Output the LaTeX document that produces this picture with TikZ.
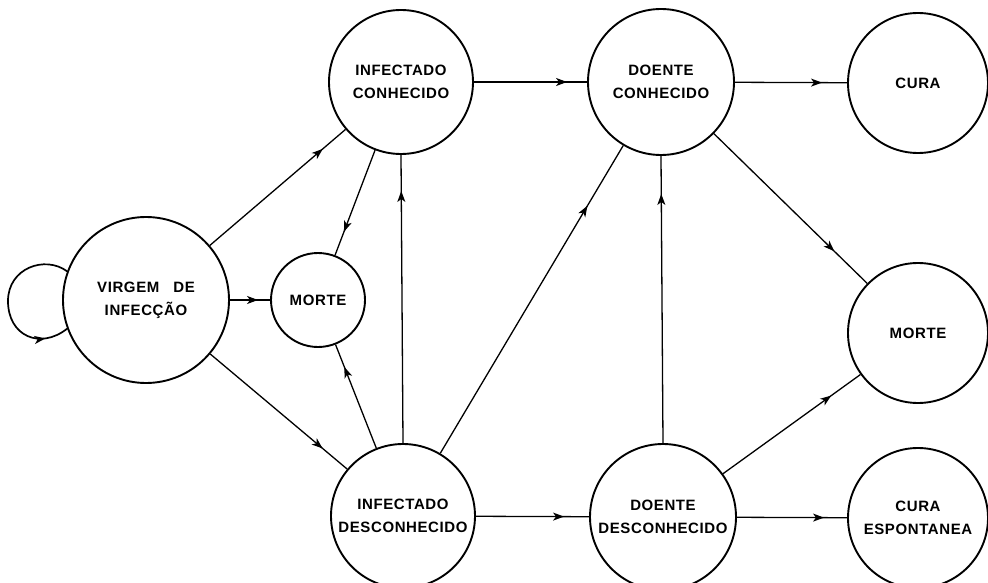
\documentclass[tikz,border=0pt]{standalone}
\usepackage{fontspec}
\setmainfont{Liberation Sans}
\newfontfamily\lab[LetterSpace=4]{Liberation Sans}
\usetikzlibrary{arrows.meta,decorations.markings}

\tikzset{
  state/.style={draw, circle, line width=1.9pt, inner sep=0pt, minimum size=#1,
    font=\lab\bfseries\fontsize{15}{23}\selectfont, align=center},
  arr/.style={line width=1.3pt, postaction={decorate},
    decoration={markings, mark=at position -#1 with {\arrow{Stealth[length=11pt,width=8pt,inset=3pt]}}}},
}

\begin{document}
\begin{tikzpicture}[x=1pt,y=-1pt]
\useasboundingbox (0,0) rectangle (988,583);

\node[state=166pt] (V)  at (146,300) {VIRGEM\hspace{14pt}DE\\INFECÇÃO};
\node[state=94pt]  (M1) at (318,300) {MORTE};
\node[state=144pt] (IC) at (401,82)  {INFECTADO\\CONHECIDO};
\node[state=146pt] (DC) at (661,82)  {DOENTE\\CONHECIDO};
\node[state=140pt] (CU) at (918,83)  {CURA};
\node[state=140pt] (M2) at (918,333) {MORTE};
\node[state=144pt] (ID) at (403,516) {INFECTADO\\DESCONHECIDO};
\node[state=146pt] (DD) at (663,517) {DOENTE\\DESCONHECIDO};
\node[state=140pt] (CE) at (918,518) {CURA\\ESPONTANEA};

\coordinate (L) at (8,301);
\draw[arr=24pt, line width=1.7pt] (V.160) .. controls (45,255) and (8,268) .. (L)
                        .. controls (8,336) and (40,350) .. (V.200);

\draw[arr=30pt] (V) -- (IC);
\draw[arr=12pt] (V) -- (M1);
\draw[arr=32pt] (V) -- (ID);
\draw[arr=25pt] (IC) -- (M1);
\draw[arr=24pt] (ID) -- (M1);
\draw[arr=36pt] (ID.north) -- (IC.south);
\draw[arr=20pt] (IC) -- (DC);
\draw[arr=70pt] (ID) -- (DC);
\draw[arr=38pt] (DD.north) -- (DC.south);
\draw[arr=25pt] (DC) -- (CU);
\draw[arr=46pt] (DC) -- (M2);
\draw[arr=36pt] (DD) -- (M2);
\draw[arr=25pt] (ID) -- (DD);
\draw[arr=23pt] (DD) -- (CE);
\end{tikzpicture}
\end{document}
